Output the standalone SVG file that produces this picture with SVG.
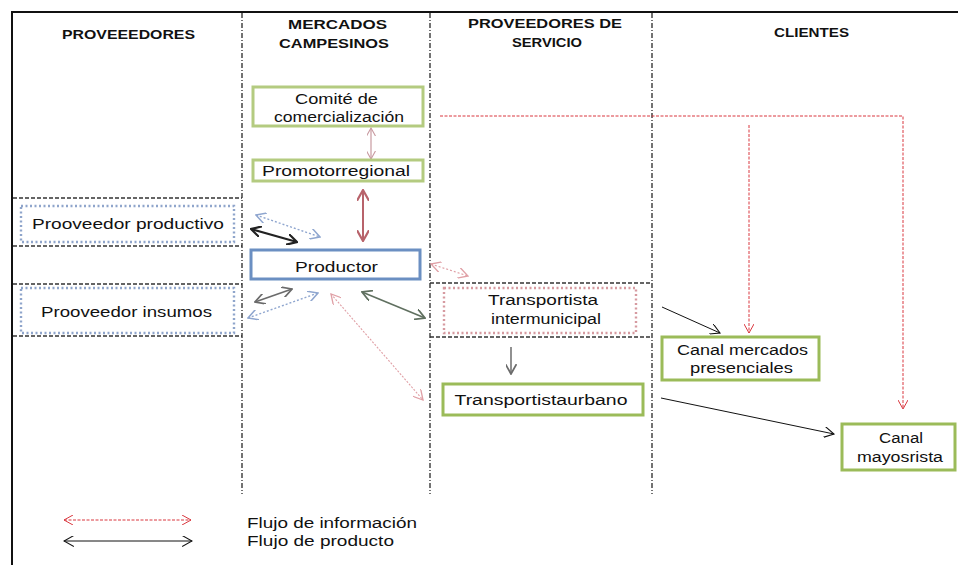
<svg xmlns="http://www.w3.org/2000/svg" width="958" height="565" viewBox="0 0 958 565">
<style>
.hdr{font-family:"Liberation Sans",Arial,sans-serif;font-weight:bold;font-size:12.5px;fill:#111;text-anchor:middle}
.t{font-family:"Liberation Sans",Arial,sans-serif;font-size:14px;fill:#111;text-anchor:middle}
.lg{font-family:"Liberation Sans",Arial,sans-serif;font-size:14px;fill:#111}
.frame{stroke:#111;stroke-width:2;fill:none}
.col{stroke:#444;stroke-width:1.5;stroke-dasharray:5 2 1 2;fill:none}
.sep{stroke:#333;stroke-width:1.6;stroke-dasharray:4 2;fill:none}
.green{fill:#fff;stroke:#9bbb59;stroke-width:3}
.greenl{fill:#fff;stroke:#b4cb80;stroke-width:3}
.blue{fill:#fff;stroke:#6b8fc2;stroke-width:3}
.dotb{fill:#fff;stroke:#8fa5cb;stroke-width:2.4;stroke-dasharray:2 2.5}
.dotr{fill:#fff;stroke:#d69aa0;stroke-width:2.4;stroke-dasharray:2 2.5}
.info{stroke:#d9363e;stroke-width:1;stroke-dasharray:3 1.5;fill:none}
.prod{stroke:#111;stroke-width:1;fill:none}
</style>
<defs>
<marker id="aRed" viewBox="0 0 10 10" refX="9" refY="5" markerWidth="10" markerHeight="10" markerUnits="userSpaceOnUse" orient="auto-start-reverse"><path d="M0,0 L9,5 L0,10" fill="none" stroke="#d9363e" stroke-width="1"/></marker>
<marker id="aBlk" viewBox="0 0 10 10" refX="9" refY="5" markerWidth="11" markerHeight="11" markerUnits="userSpaceOnUse" orient="auto-start-reverse"><path d="M0,0 L9,5 L0,10" fill="none" stroke="#111" stroke-width="1"/></marker>
<marker id="aBlk2" viewBox="0 0 10 10" refX="9" refY="5" markerWidth="11" markerHeight="11" markerUnits="userSpaceOnUse" orient="auto-start-reverse"><path d="M0,0 L9,5 L0,10" fill="none" stroke="#222" stroke-width="2"/></marker>
<marker id="aGray" viewBox="0 0 10 10" refX="9" refY="5" markerWidth="11" markerHeight="11" markerUnits="userSpaceOnUse" orient="auto-start-reverse"><path d="M0,0 L9,5 L0,10" fill="none" stroke="#6b6b6b" stroke-width="1.6"/></marker>
<marker id="aGreen" viewBox="0 0 10 10" refX="9" refY="5" markerWidth="11" markerHeight="11" markerUnits="userSpaceOnUse" orient="auto-start-reverse"><path d="M0,0 L9,5 L0,10" fill="none" stroke="#607060" stroke-width="1.6"/></marker>
<marker id="aBlue" viewBox="0 0 10 10" refX="9" refY="5" markerWidth="11" markerHeight="11" markerUnits="userSpaceOnUse" orient="auto-start-reverse"><path d="M0,0 L9,5 L0,10" fill="none" stroke="#8fa6cf" stroke-width="1.4"/></marker>
<marker id="aPink" viewBox="0 0 10 10" refX="9" refY="5" markerWidth="11" markerHeight="11" markerUnits="userSpaceOnUse" orient="auto-start-reverse"><path d="M0,0 L9,5 L0,10" fill="none" stroke="#e0a0a6" stroke-width="1.2"/></marker>
<marker id="aMaroon" viewBox="0 0 10 10" refX="9" refY="5" markerWidth="12" markerHeight="12" markerUnits="userSpaceOnUse" orient="auto-start-reverse"><path d="M0,0 L9,5 L0,10" fill="none" stroke="#b8636b" stroke-width="1.8"/></marker>
<marker id="aMauve" viewBox="0 0 10 10" refX="9" refY="5" markerWidth="9" markerHeight="9" markerUnits="userSpaceOnUse" orient="auto-start-reverse"><path d="M0,0 L9,5 L0,10" fill="none" stroke="#c89aa0" stroke-width="1.2"/></marker>
</defs>

<g id="frame">
<line class="frame" x1="12" y1="12" x2="958" y2="12"/>
<line class="frame" x1="12" y1="11" x2="12" y2="565"/>
<line class="col" x1="242" y1="13" x2="242" y2="494"/>
<line class="col" x1="430" y1="13" x2="430" y2="494"/>
<line class="col" x1="652" y1="13" x2="652" y2="494"/>
<line class="sep" x1="13" y1="198" x2="242" y2="198"/>
<line class="sep" x1="13" y1="246" x2="242" y2="246"/>
<line class="sep" x1="13" y1="284" x2="242" y2="284"/>
<line class="sep" x1="13" y1="336" x2="242" y2="336"/>
<line class="sep" x1="430" y1="283" x2="652" y2="283"/>
<line class="sep" x1="430" y1="337" x2="652" y2="337"/>
</g>

<g id="headers">
<text class="hdr" x="128.5" y="38.5" textLength="133" lengthAdjust="spacingAndGlyphs">PROVEEEDORES</text>
<text class="hdr" x="337.5" y="28.5" textLength="99" lengthAdjust="spacingAndGlyphs">MERCADOS</text>
<text class="hdr" x="334" y="48" textLength="110" lengthAdjust="spacingAndGlyphs">CAMPESINOS</text>
<text class="hdr" x="545" y="27.5" textLength="154" lengthAdjust="spacingAndGlyphs">PROVEEDORES DE</text>
<text class="hdr" x="547" y="47" textLength="70" lengthAdjust="spacingAndGlyphs">SERVICIO</text>
<text class="hdr" x="811.5" y="37" textLength="75" lengthAdjust="spacingAndGlyphs">CLIENTES</text>
</g>

<g id="connectors">
<polyline class="info" points="440,116 903,116 903,409" marker-end="url(#aRed)"/>
<line class="info" x1="749" y1="125" x2="749" y2="333" marker-end="url(#aRed)"/>
<line x1="371" y1="128" x2="371" y2="159" stroke="#c89aa0" stroke-width="1.2" marker-start="url(#aMauve)" marker-end="url(#aMauve)"/>
<line x1="363" y1="190" x2="363" y2="241" stroke="#b8636b" stroke-width="2" marker-start="url(#aMaroon)" marker-end="url(#aMaroon)"/>
<line x1="251" y1="229" x2="297" y2="242" stroke="#222" stroke-width="2" marker-start="url(#aBlk2)" marker-end="url(#aBlk2)"/>
<line x1="256" y1="215" x2="320" y2="237" stroke="#8fa6cf" stroke-width="1.4" stroke-dasharray="2 2" marker-start="url(#aBlue)" marker-end="url(#aBlue)"/>
<line x1="255" y1="302" x2="292" y2="289" stroke="#6b6b6b" stroke-width="1.6" marker-start="url(#aGray)" marker-end="url(#aGray)"/>
<line x1="248" y1="318" x2="318" y2="293" stroke="#8fa6cf" stroke-width="1.4" stroke-dasharray="2 2" marker-start="url(#aBlue)" marker-end="url(#aBlue)"/>
<line x1="362" y1="292" x2="425" y2="318" stroke="#607060" stroke-width="1.6" marker-start="url(#aGreen)" marker-end="url(#aGreen)"/>
<line x1="331" y1="294" x2="423" y2="400" stroke="#e0a0a6" stroke-width="1.1" stroke-dasharray="2 1.5" marker-start="url(#aPink)" marker-end="url(#aPink)"/>
<line x1="431" y1="264" x2="468" y2="276" stroke="#e0a0a6" stroke-width="1.2" stroke-dasharray="2 2" marker-start="url(#aPink)" marker-end="url(#aPink)"/>
<line x1="511" y1="347" x2="511" y2="374" stroke="#555" stroke-width="1.3" marker-end="url(#aGray)"/>
<line class="prod" x1="662" y1="307" x2="720" y2="333" marker-end="url(#aBlk)"/>
<line class="prod" x1="661" y1="398" x2="834" y2="434" marker-end="url(#aBlk)"/>
</g>

<g id="comite">
<rect class="greenl" x="253" y="87" width="170" height="39"/>
<text class="t" x="336.5" y="104" textLength="83" lengthAdjust="spacingAndGlyphs">Comité de</text>
<text class="t" x="339" y="121.5" textLength="130" lengthAdjust="spacingAndGlyphs">comercialización</text>
</g>
<g id="promotor">
<rect class="greenl" x="253" y="160" width="170" height="21"/>
<text class="t" x="336" y="176" word-spacing="-4" textLength="148" lengthAdjust="spacingAndGlyphs">Promotor regional</text>
</g>
<g id="productor">
<rect class="blue" x="251" y="250" width="169" height="29"/>
<text class="t" x="336.5" y="271.5" textLength="83" lengthAdjust="spacingAndGlyphs">Productor</text>
</g>
<g id="proveedor-productivo">
<rect class="dotb" x="21" y="206" width="213" height="36"/>
<text class="t" x="128" y="229" textLength="192" lengthAdjust="spacingAndGlyphs">Prooveedor productivo</text>
</g>
<g id="proveedor-insumos">
<rect class="dotb" x="21" y="288" width="213" height="45"/>
<text class="t" x="126.5" y="317" textLength="171" lengthAdjust="spacingAndGlyphs">Prooveedor insumos</text>
</g>
<g id="transportista-intermunicipal">
<rect class="dotr" x="444" y="288" width="192" height="45"/>
<text class="t" x="543" y="305" textLength="110" lengthAdjust="spacingAndGlyphs">Transportista</text>
<text class="t" x="546" y="324" textLength="110" lengthAdjust="spacingAndGlyphs">intermunicipal</text>
</g>
<g id="transportista-urbano">
<rect class="green" x="443" y="384" width="200" height="31"/>
<text class="t" x="541" y="404.5" word-spacing="-4" textLength="173" lengthAdjust="spacingAndGlyphs">Transportista urbano</text>
</g>
<g id="canal-mercados">
<rect class="green" x="662" y="337" width="157" height="43"/>
<text class="t" x="742.5" y="354.5" textLength="131" lengthAdjust="spacingAndGlyphs">Canal mercados</text>
<text class="t" x="741.5" y="372.5" textLength="103" lengthAdjust="spacingAndGlyphs">presenciales</text>
</g>
<g id="canal-mayorista">
<rect class="green" x="842" y="424" width="113" height="46"/>
<text class="t" x="901" y="443" textLength="44" lengthAdjust="spacingAndGlyphs">Canal</text>
<text class="t" x="900" y="462" textLength="86" lengthAdjust="spacingAndGlyphs">mayosrista</text>
</g>

<g id="legend">
<line class="info" x1="64" y1="520" x2="191" y2="520" marker-start="url(#aRed)" marker-end="url(#aRed)"/>
<line class="prod" x1="64" y1="541" x2="192" y2="541" marker-start="url(#aBlk)" marker-end="url(#aBlk)"/>
<text class="lg" x="247" y="528" textLength="170" lengthAdjust="spacingAndGlyphs">Flujo de información</text>
<text class="lg" x="247" y="546" textLength="147" lengthAdjust="spacingAndGlyphs">Flujo de producto</text>
</g>
</svg>
